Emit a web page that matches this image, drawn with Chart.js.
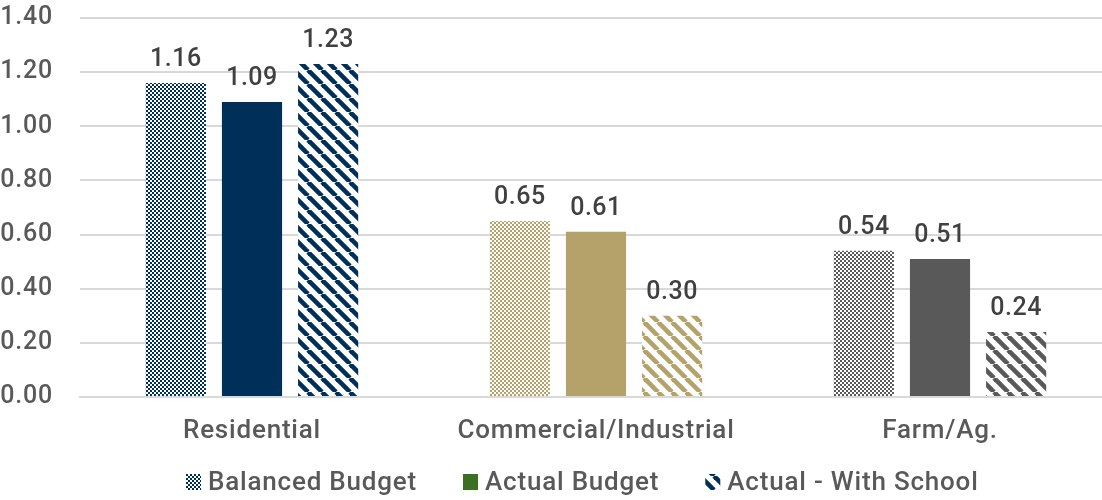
<!DOCTYPE html>
<html>
<head>
<meta charset="utf-8">
<script src="https://cdn.jsdelivr.net/npm/chart.js@4.4.1/dist/chart.umd.min.js"></script>
<style>
html,body{margin:0;padding:0;background:#fff;overflow:hidden;}
#wrap{width:1112px;height:500px;position:relative;}
</style>
</head>
<body>
<div id="wrap"><canvas id="c"></canvas></div>
<script>
const categories = ["Residential", "Commercial/Industrial", "Farm/Ag."];
const seriesNames = ["Balanced Budget", "Actual Budget", "Actual - With School"];
const balancedBudget = [1.16, 0.65, 0.54];
const actualBudget = [1.09, 0.61, 0.51];
const actualWithSchool = [1.23, 0.30, 0.24];
const yTicks = [0, 0.2, 0.4, 0.6, 0.8, 1.0, 1.2, 1.4];

const catColors = ["#00305A", "#B5A26A", "#595959"];
const legendColors = ["#00305A", "#3A7020", "#00305A"];
const FONT = "Roboto";

function checker(color) {
  const c = document.createElement('canvas');
  c.width = 4; c.height = 4;
  const x = c.getContext('2d');
  x.fillStyle = '#fff'; x.fillRect(0,0,4,4);
  x.fillStyle = color;
  x.fillRect(0,0,2,2); x.fillRect(2,2,2,2);
  return x.createPattern(c, 'repeat');
}
function stripes(color) {
  const s = 14;
  const c = document.createElement('canvas');
  c.width = s; c.height = s;
  const x = c.getContext('2d');
  x.fillStyle = '#fff'; x.fillRect(0,0,s,s);
  x.strokeStyle = color; x.lineWidth = 4.6;
  for (const o of [-s, 0, s]) {
    x.beginPath(); x.moveTo(o, 0); x.lineTo(o + s, s); x.stroke();
  }
  return x.createPattern(c, 'repeat');
}

const fills = [
  catColors.map(checker),
  catColors.slice(),
  catColors.map(stripes)
];
const legendFills = [checker(legendColors[0]), legendColors[1], stripes(legendColors[2])];

const spacing = {
  id: 'spacing',
  beforeDraw(chart) { chart.ctx.letterSpacing = '0.8px'; }
};

const dataLabels = {
  id: 'dataLabels',
  afterDatasetsDraw(chart) {
    const ctx = chart.ctx;
    ctx.save();
    ctx.letterSpacing = '0.5px';
    ctx.font = `500 25px ${FONT}`;
    ctx.fillStyle = '#404040';
    ctx.textAlign = 'center';
    ctx.textBaseline = 'alphabetic';
    chart.data.datasets.forEach((ds, i) => {
      chart.getDatasetMeta(i).data.forEach((bar, j) => {
        ctx.fillText(ds.data[j].toFixed(2), bar.x, bar.y - 17);
      });
    });
    ctx.restore();
  }
};

const customLegend = {
  id: 'customLegend',
  afterDraw(chart) {
    const ctx = chart.ctx;
    ctx.save();
    ctx.letterSpacing = '0.8px';
    ctx.font = `500 26px ${FONT}`;
    ctx.textBaseline = 'middle';
    ctx.textAlign = 'left';
    const y = 482;
    const box = 15, gapBox = 7, gapItem = 46;
    let x = 186;
    seriesNames.forEach((n, i) => {
      ctx.fillStyle = legendFills[i];
      ctx.fillRect(x, y - 8, box, 16);
      ctx.fillStyle = '#595959';
      ctx.fillText(n, x + box + gapBox, y + 1);
      x += box + gapBox + ctx.measureText(n).width + gapItem;
    });
    ctx.restore();
  }
};

new Chart(document.getElementById('c'), {
  type: 'bar',
  data: {
    labels: categories,
    datasets: [
      { label: seriesNames[0], data: balancedBudget, backgroundColor: fills[0] },
      { label: seriesNames[1], data: actualBudget, backgroundColor: fills[1] },
      { label: seriesNames[2], data: actualWithSchool, backgroundColor: fills[2] }
    ]
  },
  options: {
    responsive: true,
    maintainAspectRatio: false,
    animation: false,
    layout: { padding: { top: 18, bottom: 53, left: 0, right: 0 } },
    plugins: { legend: { display: false }, tooltip: { enabled: false } },
    datasets: { bar: { categoryPercentage: 0.664, barPercentage: 0.79 } },
    scales: {
      x: {
        afterFit(axis) { axis.height = 50; axis.paddingLeft = 0; axis.paddingRight = 0; },
        grid: { display: false, drawTicks: false },
        border: { color: '#d9d9d9', width: 2 },
        ticks: { color: '#595959', font: { family: FONT, size: 26, weight: 500 }, padding: 19, maxRotation: 0 }
      },
      y: {
        min: 0, max: 1.4,
        afterBuildTicks(axis) { axis.ticks = yTicks.map(v => ({ value: v })); },
        afterFit(axis) { axis.width = 80; axis.paddingTop = 0; axis.paddingBottom = 0; },
        grid: { color: '#d9d9d9', lineWidth: 2, drawTicks: false },
        border: { display: false },
        ticks: {
          color: '#595959', font: { family: FONT, size: 25, weight: 500 }, padding: 27,
          callback: v => v.toFixed(2)
        }
      }
    }
  },
  plugins: [spacing, dataLabels, customLegend]
});
</script>
</body>
</html>
